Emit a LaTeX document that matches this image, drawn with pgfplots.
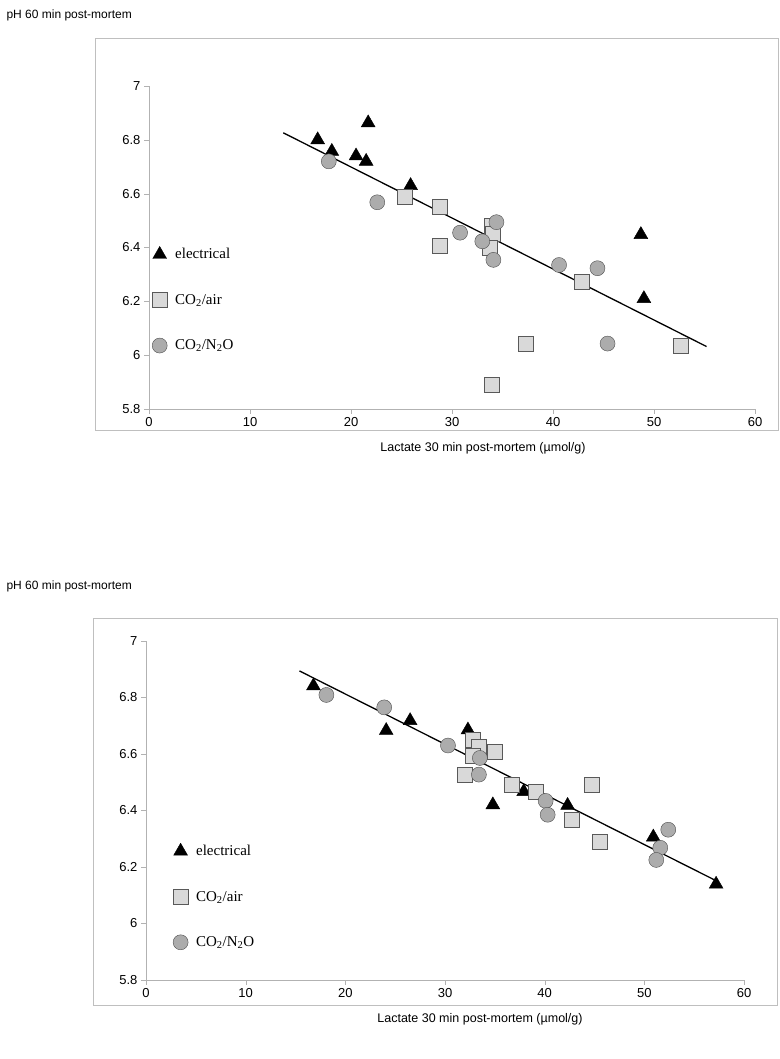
\documentclass[border=0pt]{standalone}
\usepackage{pgfplots}
\pgfplotsset{compat=1.18}
\usepackage{fontspec}
\setmainfont{Liberation Sans}
\newfontfamily\legfont{Liberation Serif}
\pgfplotsset{
 myax/.style={scale only axis, anchor=south west, xmin=0,xmax=60,ymin=5.8,ymax=7,
  axis x line*=bottom, axis y line*=left, axis line style={gray!60}, tick style={gray!60},
  tick align=outside, major tick length=5pt, xtick={0,10,...,60}, ytick={5.8,6,6.2,6.4,6.6,6.8,7},
  yticklabel style={/pgf/number format/fixed,/pgf/number format/precision=1},
  /pgf/number format/assume math mode=true,
  ticklabel style={font=\fontsize{13}{15}\selectfont},
  legend style={draw=none, fill=none, font=\legfont\fontsize{15}{17}\selectfont, row sep=30pt, anchor=north west,
   nodes={inner xsep=8pt}},
  legend cell align=left},
 tri/.style={only marks, mark=triangle*, mark size=8pt, mark options={fill=black,draw=black}},
 sq/.style={only marks, mark=square*, mark size=7.5pt, mark options={fill=gray!30,draw=gray!70!black}},
 ci/.style={only marks, mark=*, mark size=7.5pt, mark options={fill=gray!65,draw=gray!60!black}},
}
\begin{document}
\begin{tikzpicture}[x=1pt,y=1pt]
\useasboundingbox (0,0) rectangle (779,1059);
\draw[gray!50] (95,629) rectangle (778,1021);
\draw[gray!50] (93,54) rectangle (777,441);
\node[anchor=west,font=\fontsize{12}{14}\selectfont] at (3,1044) {pH 60 min post-mortem};
\node[anchor=west,font=\fontsize{12}{14}\selectfont] at (3,473) {pH 60 min post-mortem};
\node[font=\fontsize{12.5}{14}\selectfont] at (483,611) {Lactate 30 min post-mortem (µmol/g)};
\node[font=\fontsize{12.5}{14}\selectfont] at (480,40) {Lactate 30 min post-mortem (µmol/g)};
\begin{axis}[myax, at={(149pt,650pt)}, width=606pt, height=323pt, legend style={at={(0.0,0.51)}}]
\addplot[tri] coordinates {(16.7,6.80)(18.1,6.757)(21.7,6.863)(20.5,6.74)(21.5,6.72)(25.9,6.63)(48.7,6.448)(49.0,6.21)};
\addlegendentry{electrical}
\addplot[sq] coordinates {(25.3,6.589)(28.8,6.552)(28.8,6.406)(33.9,6.48)(34.0,6.45)(33.7,6.398)(37.3,6.042)(33.9,5.891)(42.8,6.274)(52.6,6.034)};
\addlegendentry{CO\textsubscript{2}/air}
\addplot[ci] coordinates {(17.8,6.72)(22.6,6.568)(30.8,6.455)(33.0,6.423)(34.1,6.354)(34.4,6.494)(40.6,6.335)(44.4,6.323)(45.4,6.043)};
\addlegendentry{CO\textsubscript{2}/N\textsubscript{2}O}
\addplot[black, line width=1.3pt, forget plot] coordinates {(13.3,6.826)(55.2,6.032)};
\end{axis}
\begin{axis}[myax, at={(146pt,79pt)}, width=598pt, height=339pt, legend style={at={(0.04,0.41)}}]
\addplot[tri] coordinates {(16.8,6.841)(24.1,6.683)(26.5,6.718)(32.3,6.685)(34.8,6.42)(37.9,6.467)(42.3,6.418)(50.9,6.306)(57.2,6.139)};
\addlegendentry{electrical}
\addplot[sq] coordinates {(32.8,6.651)(33.4,6.627)(35.0,6.609)(32.8,6.595)(32.0,6.525)(36.7,6.492)(39.1,6.467)(42.7,6.367)(44.7,6.491)(45.5,6.291)};
\addlegendentry{CO\textsubscript{2}/air}
\addplot[ci] coordinates {(18.1,6.809)(23.9,6.765)(30.3,6.63)(33.5,6.586)(33.4,6.527)(40.1,6.434)(40.3,6.385)(52.4,6.332)(51.6,6.268)(51.2,6.225)};
\addlegendentry{CO\textsubscript{2}/N\textsubscript{2}O}
\addplot[black, line width=1.3pt, forget plot] coordinates {(15.4,6.894)(57.0,6.155)};
\end{axis}
\end{tikzpicture}
\end{document}
